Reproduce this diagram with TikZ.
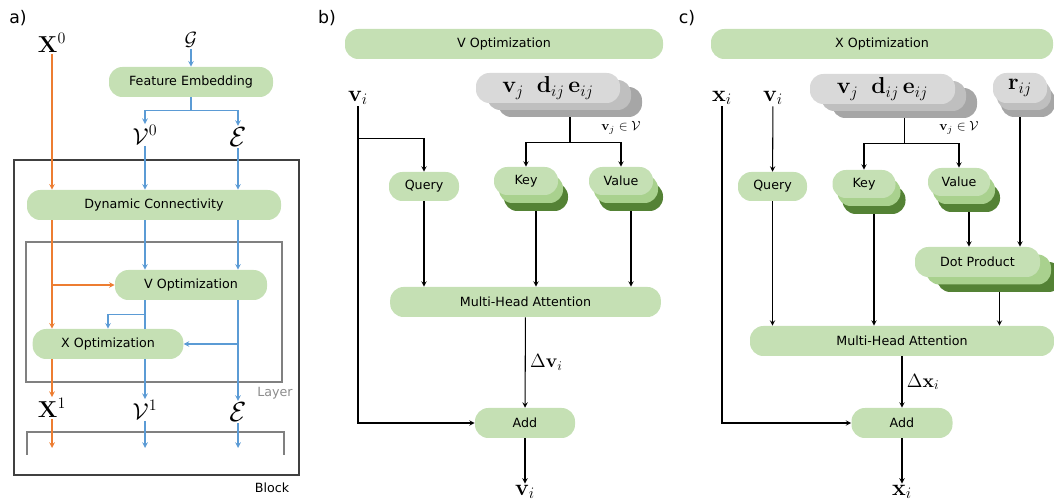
\documentclass[tikz,border=0pt]{standalone}
\usepackage[no-math]{fontspec}
\setmainfont{DejaVu Sans}
\usepackage{amsmath}

\definecolor{boxgreen}{HTML}{C5E0B4}
\definecolor{midgreen}{HTML}{A9D18E}
\definecolor{darkgreen}{HTML}{548235}
\definecolor{grayA}{HTML}{D9D9D9}
\definecolor{grayB}{HTML}{BFBFBF}
\definecolor{grayC}{HTML}{A6A6A6}
\definecolor{lineorange}{HTML}{ED7D31}
\definecolor{lineblue}{HTML}{5B9BD5}

\begin{document}
\begin{tikzpicture}[x=0.75pt,y=-0.75pt,>=stealth,
  every node/.style={font=\fontsize{9.5}{11}\selectfont},
  pill/.style={rectangle,rounded corners=10pt,fill=boxgreen,minimum height=22.5pt,inner sep=0pt},
  gpill/.style={rectangle,rounded corners=10pt,minimum height=22.5pt,inner sep=0pt},
  lbl/.style={inner sep=1pt},
  blk/.style={line width=0.8pt,black},
  org/.style={line width=0.9pt,lineorange},
  blu/.style={line width=0.9pt,lineblue}]
  \useasboundingbox (0,0) rectangle (1054,502);

  % panel a
  \node[font=\fontsize{13}{15}\selectfont] (ta) at (18,18) {a)};
  \node[lbl,font=\LARGE] (x0) at (52,43) {$\mathbf{X}^0$};
  \node[lbl,font=\Large] (g) at (191,40) {$\mathcal{G}$};
  \node[pill,minimum width=123pt] (fe) at (191,82) {Feature Embedding};
  \node[lbl,font=\LARGE] (v0) at (145,135) {$\mathcal{V}^0$};
  \node[lbl,font=\huge] (e0) at (238,137) {$\mathcal{E}$};

  \draw[line width=1.8pt,black!75] (14,160) rectangle (299,475);
  \draw[line width=1.8pt,black!50] (26,242) rectangle (282,382);
  \node[text=black!45] (lay) at (275,393) {Layer};
  \node (blck) at (272,488) {Block};

  \node[pill,minimum width=190.5pt] (dc) at (154,205) {Dynamic Connectivity};
  \node[pill,minimum width=114pt] (vopt) at (191,285) {V Optimization};
  \node[pill,minimum width=113pt] (xopt) at (108,344) {X Optimization};

  \node[lbl,font=\LARGE] (x1) at (52,408) {$\mathbf{X}^1$};
  \node[lbl,font=\LARGE] (v1) at (145,410) {$\mathcal{V}^1$};
  \node[lbl,font=\huge] (e1) at (238,412) {$\mathcal{E}$};
  \coordinate (out) at (0,448);
  \draw[line width=1.8pt,black!50] (27,455) -- (27,432) -- (284,432) -- (284,455);

  \draw[->,blu] (g) -- (fe);
  \draw[->,blu] (fe.south) -- ++(0,13) -| (v0.north);
  \draw[->,blu] (fe.south) -- ++(0,13) -| (e0.north);
  \draw[->,blu] (v0) -- (v0 |- dc.north);
  \draw[->,blu] (e0) -- (e0 |- dc.north);
  \draw[->,blu] (v0 |- dc.south) -- (v0 |- vopt.north);
  \draw[->,blu] (e0 |- dc.south) -- (e0 |- vopt.north);
  \draw[blu] (v0 |- vopt.south) -- (v0 |- xopt.north);
  \draw[->,blu] (v0 |- vopt.south) ++(0,14) -| (xopt.north);
  \draw[->,blu] (v0 |- xopt.south) -- (v1);
  \draw[->,blu] (e0 |- vopt.south) -- (e1);
  \draw[->,blu] (e0 |- xopt) -- (xopt.east);
  \draw[->,blu] (v1) -- (v1 |- out);
  \draw[->,blu] (e1) -- (e1 |- out);

  \draw[->,org] (x0) -- (x0 |- dc.north);
  \draw[->,org] (x0 |- dc.south) -- (x0 |- xopt.north);
  \draw[->,org] (x0 |- vopt) -- (vopt.west);
  \draw[->,org] (x0 |- xopt.south) -- (x1);
  \draw[->,org] (x1) -- (x1 |- out);

  % panel b
  \node[font=\fontsize{13}{15}\selectfont] (tb) at (327,18) {b)};
  \node[pill,minimum width=238.5pt] (vban) at (504,44) {V Optimization};
  \node[lbl,font=\LARGE] (vib) at (358,98) {$\mathbf{v}_i$};
  \node[pill,minimum width=52.5pt,minimum height=21.75pt] (qb) at (424,186.5) {Query};
  \node[gpill,fill=grayC,minimum width=108pt] (sbb) at (570,102) {};
  \node[gpill,fill=grayB,minimum width=108pt] (sbm) at (559,95) {};
  \node[gpill,fill=grayA,minimum width=108pt,font=\LARGE] (sbf) at (548,88) {$\mathbf{v}_j\;\;\mathbf{d}_{ij}\,\mathbf{e}_{ij}$};
  \node[pill,fill=darkgreen,minimum width=48pt,minimum height=21pt] (kbb) at (536,197) {};
  \node[pill,fill=midgreen,minimum width=48pt,minimum height=21pt] (kbm) at (531,189) {};
  \node[pill,minimum width=48pt,minimum height=21pt] (kbf) at (526,181) {Key};
  \node[pill,fill=darkgreen,minimum width=48pt,minimum height=21pt] (vbb) at (631,197) {};
  \node[pill,fill=midgreen,minimum width=48pt,minimum height=21pt] (vbm) at (626,189) {};
  \node[pill,minimum width=48pt,minimum height=21pt] (vbf) at (621,181) {Value};
  \node[lbl,font=\normalsize] (vjb) at (621,128) {$\mathbf{v}_j\in\mathcal{V}$};
  \node[pill,minimum width=203pt] (mhab) at (525.5,302) {Multi-Head Attention};
  \node[pill,minimum width=75pt] (addb) at (525,423) {Add};
  \node[lbl,font=\LARGE] (vob) at (525,492) {$\mathbf{v}_i$};

  \draw[blk] (sbb.south) -- ++(0,25) coordinate (sjb);
  \draw[->,blk] (sjb) -| (kbf.north);
  \draw[->,blk] (sjb) -| (vbf.north);
  \draw[->,blk] (vib.south) |- (addb.west);
  \draw[->,blk] (vib.south) ++(0,32) -| (qb.north);
  \draw[->,blk] (qb) -- (qb |- mhab.north);
  \draw[->,blk] (kbb.south) -- (kbb.south |- mhab.north);
  \draw[->,blk] (vbb.south) -- (vbb.south |- mhab.north);
  \draw[->,blk] (mhab) -- node[right,font=\Large] (dvb) {$\Delta\mathbf{v}_i$} (addb);
  \draw[->,blk] (addb) -- (vob);

  % panel c
  \node[font=\fontsize{13}{15}\selectfont] (tc) at (687,18) {c)};
  \node[pill,minimum width=256.5pt] (xban) at (882,44) {X Optimization};
  \node[lbl,font=\LARGE] (xic) at (722,98) {$\mathbf{x}_i$};
  \node[lbl,font=\LARGE] (vic) at (773,98) {$\mathbf{v}_i$};
  \node[pill,minimum width=51.75pt,minimum height=21.75pt] (qc) at (772.5,186.5) {Query};
  \node[gpill,fill=grayC,minimum width=108.75pt] (scb) at (904.5,103) {};
  \node[gpill,fill=grayB,minimum width=108.75pt] (scm) at (893.5,96) {};
  \node[gpill,fill=grayA,minimum width=108.75pt,font=\LARGE] (scf) at (882.5,89) {$\mathbf{v}_j\;\;\mathbf{d}_{ij}\,\mathbf{e}_{ij}$};
  \node[gpill,fill=grayC,minimum width=40.5pt] (rb) at (1028,102) {};
  \node[gpill,fill=grayB,minimum width=40.5pt] (rm) at (1024,95) {};
  \node[gpill,fill=grayA,minimum width=40.5pt,font=\LARGE] (rf) at (1020,88) {$\mathbf{r}_{ij}$};
  \node[pill,fill=darkgreen,minimum width=47.25pt,minimum height=21pt] (kcb) at (874,200) {};
  \node[pill,fill=midgreen,minimum width=47.25pt,minimum height=21pt] (kcm) at (869,192) {};
  \node[pill,minimum width=47.25pt,minimum height=21pt] (kcf) at (864,184) {Key};
  \node[pill,fill=darkgreen,minimum width=46.5pt,minimum height=21pt] (vcb) at (969,198) {};
  \node[pill,fill=midgreen,minimum width=46.5pt,minimum height=21pt] (vcm) at (964,190) {};
  \node[pill,minimum width=46.5pt,minimum height=21pt] (vcf) at (959,182) {Value};
  \node[lbl,font=\normalsize] (vjc) at (959,128) {$\mathbf{v}_j\in\mathcal{V}$};
  \node[pill,fill=darkgreen,minimum width=93.75pt] (dotb) at (999.5,277) {};
  \node[pill,fill=midgreen,minimum width=93.75pt] (dotm) at (988.5,269.5) {};
  \node[pill,minimum width=93.75pt] (dotf) at (977.5,262) {Dot Product};
  \node[pill,minimum width=228pt] (mhac) at (902,341) {Multi-Head Attention};
  \node[pill,minimum width=75.75pt] (addc) at (902,423) {Add};
  \node[lbl,font=\LARGE] (xoc) at (902,492) {$\mathbf{x}_i$};

  \draw[blk] (scb.south) -- ++(0,25) coordinate (sjc);
  \draw[->,blk] (sjc) -| (kcf.north);
  \draw[->,blk] (sjc) -| (vcf.north);
  \draw[->,blk] (xic.south) |- (addc.west);
  \draw[->,blk] (vic) -- (qc);
  \draw[->,blk] (qc) -- (qc |- mhac.north);
  \draw[->,blk] (kcb.south) -- (kcb.south |- mhac.north);
  \draw[->,blk] (vcb.south) -- (vcb.south |- dotf.north);
  \draw[->,blk] (rf.south |- rb.south) -- (rf.south |- dotf.north);
  \draw[->,blk] (dotb.south) -- (dotb.south |- mhac.north);
  \draw[->,blk] (mhac) -- node[right,font=\Large] (dxc) {$\Delta\mathbf{x}_i$} (addc);
  \draw[->,blk] (addc) -- (xoc);
\end{tikzpicture}
\end{document}
